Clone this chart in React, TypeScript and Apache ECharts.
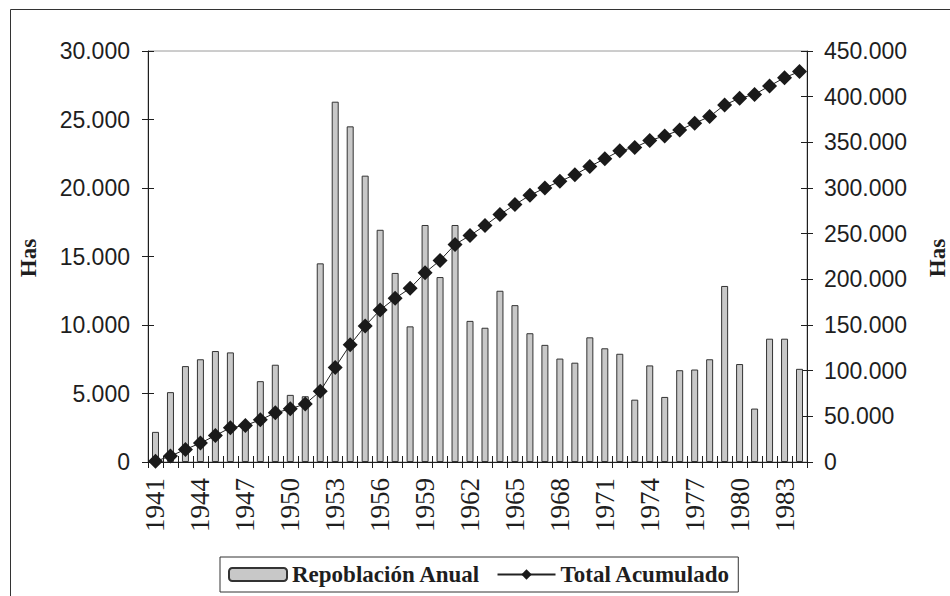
import React, { useEffect, useRef } from "react";
import * as echarts from "echarts";

const years = [
  "1941", "1942", "1943", "1944", "1945", "1946", "1947", "1948", "1949", "1950",
  "1951", "1952", "1953", "1954", "1955", "1956", "1957", "1958", "1959", "1960",
  "1961", "1962", "1963", "1964", "1965", "1966", "1967", "1968", "1969", "1970",
  "1971", "1972", "1973", "1974", "1975", "1976", "1977", "1978", "1979", "1980",
  "1981", "1982", "1983", "1984",
];

const repoblacionAnual = [
  2200, 5100, 7000, 7500, 8100, 8000, 2500, 5900, 7100, 4900,
  4800, 14500, 26300, 24500, 20900, 16950, 13800, 9900, 17300, 13500,
  17300, 10300, 9800, 12500, 11450, 9400, 8550, 7550, 7250, 9100,
  8300, 7900, 4550, 7050, 4750, 6700, 6750, 7500, 12850, 7150,
  3900, 9000, 9000, 6800,
];

const totalAcumulado = [
  800, 6500, 13800, 20700, 29000, 37500, 40000, 46200, 53800, 58200,
  63600, 77500, 103600, 128400, 149000, 166500, 179300, 190200, 207300, 220700,
  238200, 248000, 258900, 270900, 281800, 292000, 300000, 307300, 314500, 323600,
  332000, 340700, 344400, 352000, 357000, 363600, 370900, 378200, 391000, 398200,
  402500, 411700, 420800, 427500,
];

const seriesNames = ["Repoblación Anual", "Total Acumulado"];
const axisTitle = "Has";

const fmt = (v: number) =>
  String(v).replace(/\B(?=(\d{3})+(?!\d))/g, ".");

export default function App() {
  const ref = useRef<HTMLDivElement>(null);

  useEffect(() => {
    if (!ref.current) return;
    const chart = echarts.init(ref.current, undefined, { renderer: "svg" });
    const sans = "'Liberation Sans', Arial, sans-serif";
    const serif = "'Liberation Serif', 'Times New Roman', serif";
    const ink = "#1e1e1e";

    chart.setOption({
      animation: false,
      backgroundColor: "#ffffff",
      grid: {
        left: 148,
        right: 143,
        top: 51,
        bottom: 134,
        show: true,
        borderColor: "#9a9a9a",
        borderWidth: 1,
      },
      legend: {
        data: seriesNames,
        left: 220,
        top: 557,
        orient: "horizontal",
        itemWidth: 58,
        itemHeight: 13,
        itemGap: 16,
        padding: [6, 8, 6, 8],
        borderColor: "#333",
        borderWidth: 1,
        textStyle: {
          fontFamily: serif,
          fontWeight: "bold",
          fontSize: 23,
          color: ink,
        },
      },
      xAxis: [
        {
          type: "category",
          data: years,
          position: "bottom",
          boundaryGap: true,
          axisLine: { show: true, lineStyle: { color: ink, width: 1 } },
          axisTick: { show: true, interval: 0, length: 6, lineStyle: { color: ink } },
          axisLabel: {
            interval: 2,
            rotate: 90,
            margin: 16,
            fontFamily: serif,
            fontSize: 27,
            color: ink,
          },
          splitLine: { show: false },
        },
        {
          type: "category",
          data: years,
          position: "bottom",
          boundaryGap: true,
          axisLine: { show: false },
          axisTick: { show: true, inside: true, interval: 0, length: 6, lineStyle: { color: ink } },
          axisLabel: { show: false },
          splitLine: { show: false },
        },
      ],
      yAxis: [
        {
          type: "value",
          position: "left",
          min: 0,
          max: 30000,
          interval: 5000,
          axisLine: { show: true, lineStyle: { color: ink, width: 1 } },
          axisTick: { show: true, length: 6, lineStyle: { color: ink } },
          axisLabel: {
            margin: 18,
            fontFamily: sans,
            fontSize: 23,
            color: ink,
            formatter: fmt,
          },
          splitLine: { show: false },
        },
        {
          type: "value",
          position: "left",
          min: 0,
          max: 30000,
          interval: 5000,
          axisLine: { show: false },
          axisTick: { show: true, inside: true, length: 6, lineStyle: { color: ink } },
          axisLabel: { show: false },
          splitLine: { show: false },
        },
        {
          type: "value",
          position: "right",
          min: 0,
          max: 450000,
          interval: 50000,
          axisLine: { show: true, lineStyle: { color: ink, width: 1 } },
          axisTick: { show: true, length: 6, lineStyle: { color: ink } },
          axisLabel: {
            margin: 17,
            fontFamily: sans,
            fontSize: 23,
            color: ink,
            formatter: fmt,
          },
          splitLine: { show: false },
        },
        {
          type: "value",
          position: "right",
          min: 0,
          max: 450000,
          interval: 50000,
          axisLine: { show: false },
          axisTick: { show: true, inside: true, length: 6, lineStyle: { color: ink } },
          axisLabel: { show: false },
          splitLine: { show: false },
        },
      ],
      series: [
        {
          name: seriesNames[0],
          type: "bar",
          xAxisIndex: 0,
          yAxisIndex: 0,
          data: repoblacionAnual,
          barWidth: 7,
          itemStyle: {
            color: "#c8c8c8",
            borderColor: "#333",
            borderWidth: 1,
          },
        },
        {
          name: seriesNames[1],
          type: "line",
          xAxisIndex: 0,
          yAxisIndex: 2,
          data: totalAcumulado,
          symbol: "diamond",
          symbolSize: 15,
          showAllSymbol: true,
          itemStyle: { color: "#1a1a1a" },
          lineStyle: { color: "#222", width: 1 },
          z: 5,
        },
      ],
      graphic: [
        {
          type: "rect",
          silent: true,
          z: -10,
          shape: { x: 10.5, y: 9.5, width: 1000, height: 700 },
          style: { fill: "none", stroke: "#333", lineWidth: 1 },
        },
        {
          type: "text",
          x: 28,
          y: 258,
          rotation: Math.PI / 2,
          style: {
            text: axisTitle,
            align: "center",
            verticalAlign: "middle",
            font: `bold 23px ${serif}`,
            fill: ink,
          },
        },
        {
          type: "text",
          x: 937,
          y: 258,
          rotation: Math.PI / 2,
          style: {
            text: axisTitle,
            align: "center",
            verticalAlign: "middle",
            font: `bold 23px ${serif}`,
            fill: ink,
          },
        },
      ],
    });

    return () => chart.dispose();
  }, []);

  return (
    <div
      ref={ref}
      style={{ position: "fixed", left: 0, top: 0, width: 950, height: 596, background: "#fff" }}
    />
  );
}
